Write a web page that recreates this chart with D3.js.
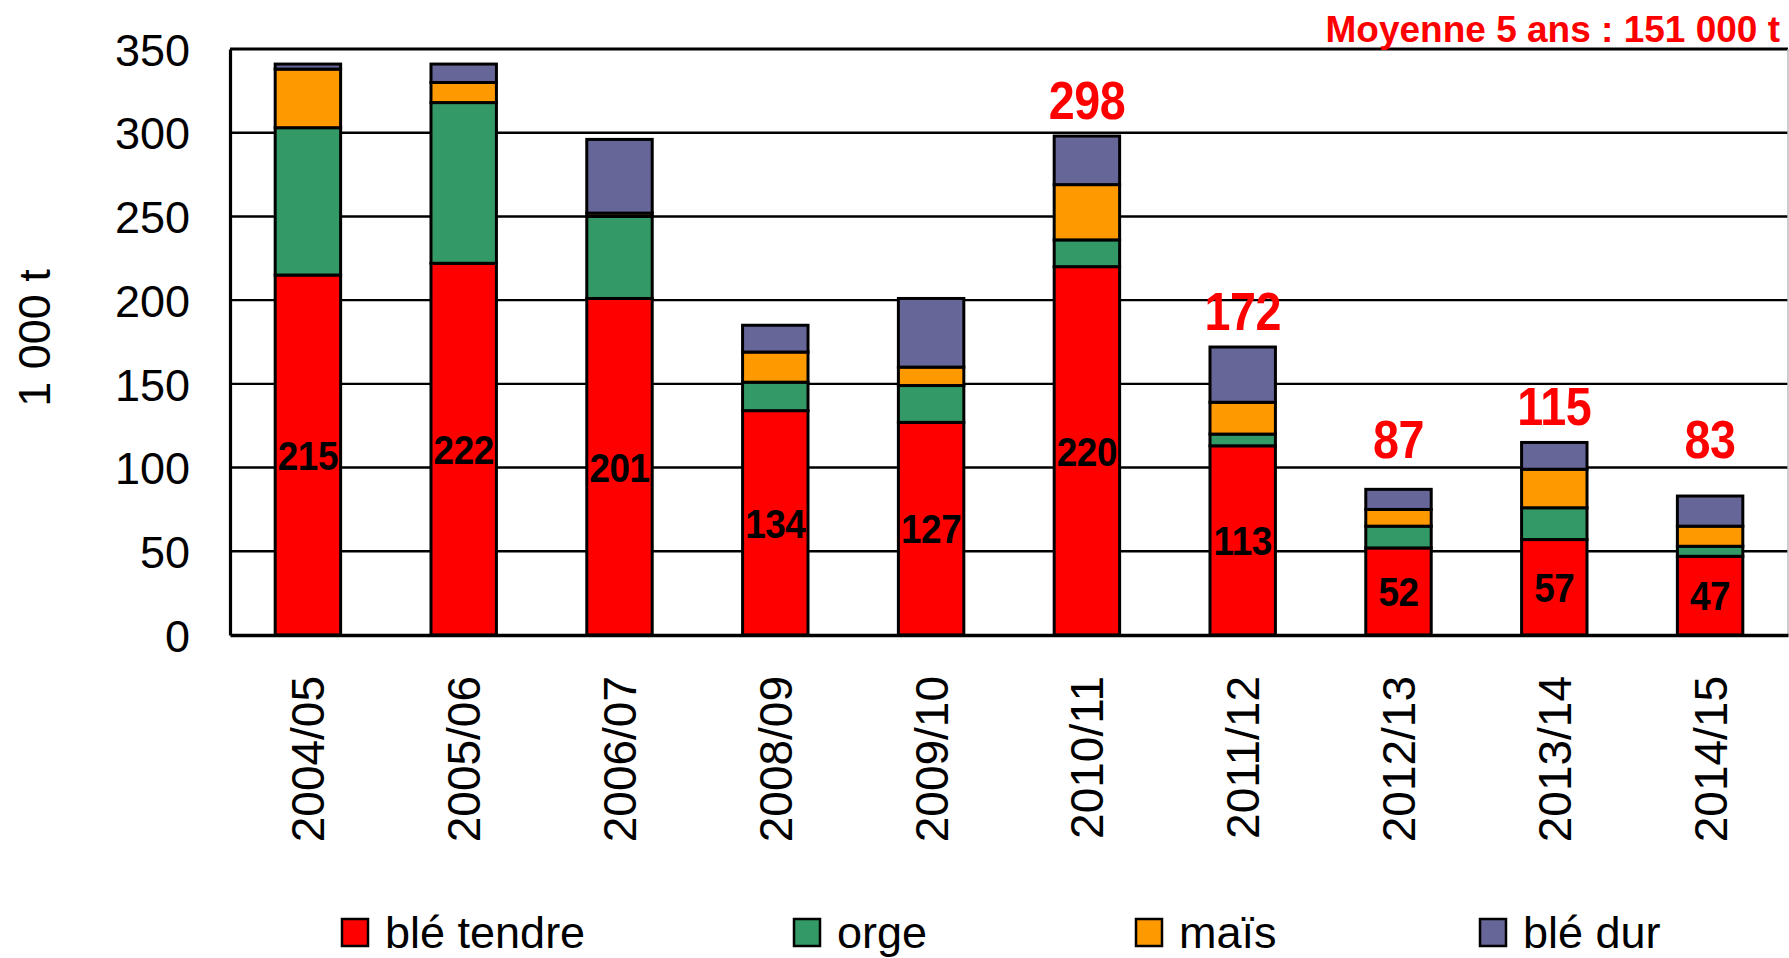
<!DOCTYPE html>
<html lang="fr">
<head>
<meta charset="utf-8">
<title>Stocks de céréales</title>
<script src="https://cdn.jsdelivr.net/npm/d3@7"></script>
<style>
  html, body { margin: 0; padding: 0; background: #fff; }
  svg { display: block; }
  text { font-family: "Liberation Sans", Arial, Helvetica, sans-serif; }
</style>
</head>
<body>
<svg id="chart" width="1789" height="958"></svg>
<script>
// Campagnes (x axis)
const campagnes = ["2004/05", "2005/06", "2006/07", "2008/09", "2009/10",
                   "2010/11", "2011/12", "2012/13", "2013/14", "2014/15"];

// Tonnages par céréale, en milliers de tonnes
const bleTendre = [215, 222, 201, 134, 127, 220, 113, 52, 57, 47];
const orge      = [ 88,  96,  49,  17,  22,  16,   7, 13, 19,  6];
const mais      = [ 35,  12,   2,  18,  11,  33,  19, 10, 23, 12];
const bleDur    = [  3,  11,  44,  16,  41,  29,  33, 12, 16, 18];

// Totaux affichés au-dessus des barres des cinq dernières campagnes
const totauxAffiches = ["2010/11", "2011/12", "2012/13", "2013/14", "2014/15"];

const yTicks = [0, 50, 100, 150, 200, 250, 300, 350];

const series = [
  { key: "bleTendre", label: "blé tendre", values: bleTendre, color: "#FF0000" },
  { key: "orge",      label: "orge",       values: orge,      color: "#339966" },
  { key: "mais",      label: "maïs",       values: mais,      color: "#FF9900" },
  { key: "bleDur",    label: "blé dur",    values: bleDur,    color: "#666699" }
];

const rows = campagnes.map((c, i) => {
  const r = { campagne: c };
  series.forEach(s => { r[s.key] = s.values[i]; });
  return r;
});

const svg = d3.select("#chart");
const W = 1789, H = 958;
const plot = { left: 230, right: 1788, top: 49, bottom: 635 };

const x = d3.scaleBand()
  .domain(campagnes)
  .range([plot.left, plot.right])
  .paddingInner(0.58)
  .paddingOuter(0.29);

const y = d3.scaleLinear()
  .domain([0, 350])
  .range([plot.bottom, plot.top]);

svg.append("rect").attr("width", W).attr("height", H).attr("fill", "#fff");

// Horizontal gridlines
svg.append("g")
  .selectAll("line")
  .data(yTicks.filter(t => t > 0 && t < 350))
  .join("line")
  .attr("x1", plot.left).attr("x2", plot.right)
  .attr("y1", d => y(d)).attr("y2", d => y(d))
  .attr("stroke", "#000").attr("stroke-width", 2.4);

// Plot frame: top line, thin right edge
svg.append("line")
  .attr("x1", plot.left).attr("x2", plot.right)
  .attr("y1", y(350)).attr("y2", y(350))
  .attr("stroke", "#000").attr("stroke-width", 3.2);
svg.append("line")
  .attr("x1", plot.right).attr("x2", plot.right)
  .attr("y1", plot.top).attr("y2", plot.bottom)
  .attr("stroke", "#bbb").attr("stroke-width", 1.5);

// Stacked bars
const stacked = d3.stack().keys(series.map(s => s.key))(rows);
const colorOf = Object.fromEntries(series.map(s => [s.key, s.color]));

svg.append("g")
  .selectAll("g")
  .data(stacked)
  .join("g")
  .attr("fill", d => colorOf[d.key])
  .selectAll("rect")
  .data(d => d)
  .join("rect")
  .attr("x", d => x(d.data.campagne))
  .attr("width", x.bandwidth())
  .attr("y", d => y(d[1]))
  .attr("height", d => y(d[0]) - y(d[1]))
  .attr("stroke", "#000")
  .attr("stroke-width", 3);

// Y axis
const yAxis = svg.append("g")
  .attr("transform", `translate(${plot.left},0)`)
  .call(d3.axisLeft(y).tickValues(yTicks).tickSize(0).tickPadding(40).tickFormat(d3.format("d")));
yAxis.select(".domain").attr("stroke", "#000").attr("stroke-width", 3.2);
yAxis.selectAll("text")
  .attr("font-size", 45)
  .attr("fill", "#000")
  .attr("dy", "0.36em");

// X axis (baseline + rotated labels)
const xAxis = svg.append("g")
  .attr("transform", `translate(0,${plot.bottom})`)
  .call(d3.axisBottom(x).tickSize(0).tickPadding(0));
xAxis.select(".domain").attr("stroke", "#000").attr("stroke-width", 3.6);
xAxis.selectAll("text")
  .attr("font-size", 46)
  .attr("fill", "#000")
  .attr("text-anchor", "end")
  .attr("transform", "translate(0,41) rotate(-90)")
  .attr("x", 0)
  .attr("y", 0)
  .attr("dy", "0.36em");

// Axis title
svg.append("text")
  .attr("transform", `translate(50,338) rotate(-90)`)
  .attr("text-anchor", "middle")
  .attr("font-size", 45)
  .attr("fill", "#000")
  .text("1 000 t");

// Blé tendre values inside the red segments (narrow bold digits)
svg.append("g")
  .selectAll("text")
  .data(rows)
  .join("text")
  .attr("transform", d =>
    `translate(${x(d.campagne) + x.bandwidth() / 2},${y(d.bleTendre / 2)}) scale(0.9,1)`)
  .attr("dy", "0.36em")
  .attr("text-anchor", "middle")
  .attr("font-size", 41)
  .attr("font-weight", "bold")
  .attr("letter-spacing", -0.5)
  .attr("fill", "#000")
  .text(d => d.bleTendre);

// Totals above the recent bars
const total = d => series.reduce((s, k) => s + d[k.key], 0);
svg.append("g")
  .selectAll("text")
  .data(rows.filter(d => totauxAffiches.includes(d.campagne)))
  .join("text")
  .attr("transform", d =>
    `translate(${x(d.campagne) + x.bandwidth() / 2},${Math.min(y(total(d)) - 17, y(106))}) scale(0.88,1)`)
  .attr("text-anchor", "middle")
  .attr("font-size", 53)
  .attr("font-weight", "bold")
  .attr("letter-spacing", -0.5)
  .attr("fill", "#FF0000")
  .text(d => total(d));

// Five-year mean note
svg.append("text")
  .attr("x", 1780)
  .attr("y", 42)
  .attr("text-anchor", "end")
  .attr("font-size", 37)
  .attr("font-weight", "bold")
  .attr("fill", "#FF0000")
  .text("Moyenne 5 ans : 151 000 t");

// Legend
const legendX = [342, 794, 1136, 1480];
const legend = svg.append("g")
  .selectAll("g")
  .data(series)
  .join("g")
  .attr("transform", (d, i) => `translate(${legendX[i]},919)`);
legend.append("rect")
  .attr("width", 26).attr("height", 27)
  .attr("fill", d => d.color)
  .attr("stroke", "#000").attr("stroke-width", 2.5);
legend.append("text")
  .attr("x", 43)
  .attr("y", 29)
  .attr("font-size", 45)
  .attr("fill", "#000")
  .text(d => d.label);
</script>
</body>
</html>
